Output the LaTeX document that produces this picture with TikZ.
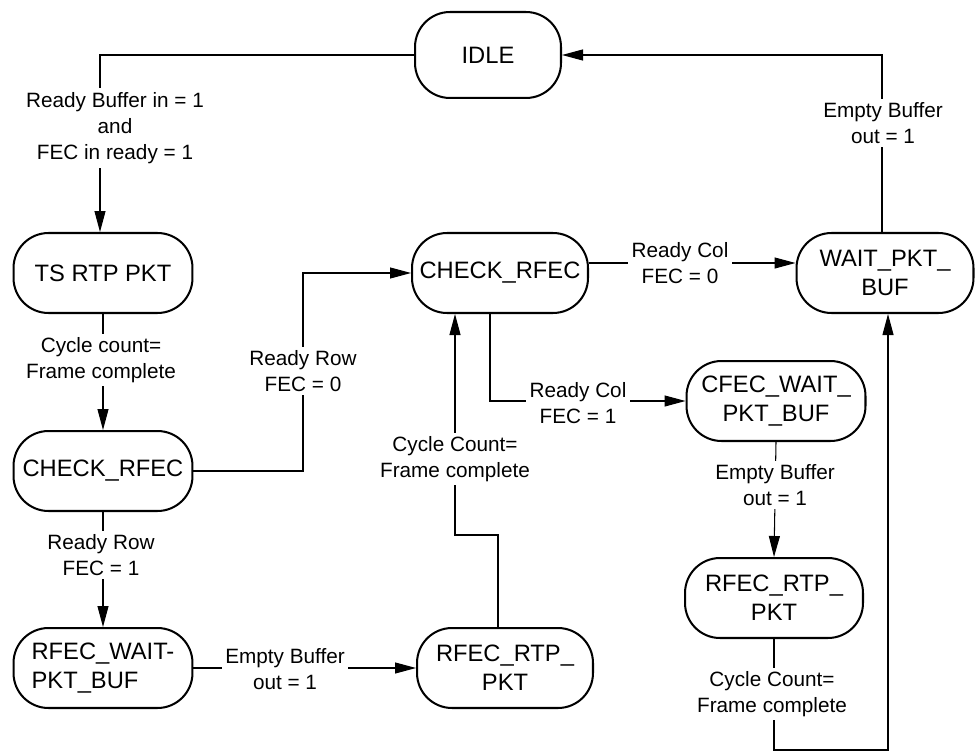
\documentclass[tikz,border=0pt]{standalone}
\usepackage{fontspec}
\setmainfont{Liberation Sans}
\usepackage{tikz}
\usetikzlibrary{arrows.meta,calc}

\begin{document}
\begin{tikzpicture}[x=.02cm,y=-.02cm,>={Triangle[length=.42cm,width=.22cm]},
    state/.style={draw,line width=1.15pt,rounded corners=.7cm,minimum width=3.58cm,minimum height=1.6cm,
      align=center,inner sep=2pt,font=\fontsize{13.5}{16.4}\selectfont},
    cond/.style={fill=white,align=center,inner sep=2pt,font=\fontsize{11.8}{15}\selectfont},
    link/.style={line width=.6pt}]
        \useasboundingbox (0,0) rectangle (976,753);
        \node[state,minimum width=2.92cm,minimum height=1.72cm] (idle) at (488,55) {IDLE};
        \node[state] (tsrtp) at (103,273) {TS RTP PKT};
        \node[state] (rowchk) at (103,471) {CHECK\_RFEC};
        \node[state,align=left] (rowwait) at (103,668) {RFEC\_WAIT-\\PKT\_BUF};
        \node[state,minimum width=3.52cm] (colchk) at (500,273) {CHECK\_RFEC};
        \node[state,minimum width=3.52cm] (rowrtp) at (505,668) {RFEC\_RTP\_\\PKT};
        \node[state,minimum width=3.54cm] (pktwait) at (885,273) {WAIT\_PKT\_\\BUF};
        \node[state] (colwait) at (776,401) {CFEC\_WAIT\_\\PKT\_BUF};
        \node[state,minimum width=3.56cm] (colrtp) at (774,598) {RFEC\_RTP\_\\PKT};
        \coordinate (rowbend) at (303,0);
        \coordinate (cycbend) at (455,535);
        \coordinate (lowbend) at (888,750);
        \draw[link,->] (idle.west) -| ([xshift=-.06cm]tsrtp.north);
        \draw[link,->] (tsrtp.south) -- (rowchk.north);
        \draw[link,->] (rowchk.south) -- (rowwait.north);
        \draw[link,->] (rowchk.east) -- (rowchk.east -| rowbend) |- (colchk.west);
        \draw[link,->] (rowwait.east) -- (rowrtp.west);
        \draw[link,->] ([xshift=-.14cm]rowrtp.north) |- (cycbend) -- (cycbend |- colchk.south);
        \draw[link,->] ([yshift=.2cm]colchk.east) -- ([yshift=.2cm]pktwait.west);
        \draw[link,->] ([xshift=-.2cm]colchk.south) |- (colwait.west);
        \draw[link,->] (colwait.south) -- (colrtp.north);
        \draw[link,->] (colrtp.south) |- (lowbend) -- (pktwait.south -| lowbend);
        \draw[link,->] ([xshift=-.06cm]pktwait.north) |- (idle.east);
        \node[cond] (bufin) at (115,128) {Ready Buffer in = 1\\and\\FEC in ready = 1};
        \node[cond] (tscyc) at (101,360) {Cycle count=\\Frame complete};
        \node[cond] (row0) at (303,371) {Ready Row\\FEC = 0};
        \node[cond] (row1) at (101,555) {Ready Row\\FEC = 1};
        \node[cond] (rowout) at (285,669) {Empty Buffer\\out = 1};
        \node[cond] (rowcyc) at (455,459) {Cycle Count=\\Frame complete};
        \node[cond] (col0) at (680,263) {Ready Col\\FEC = 0};
        \node[cond] (col1) at (578,403) {Ready Col\\FEC = 1};
        \node[cond] (colout) at (775,485) {Empty Buffer\\out = 1};
        \node[cond] (colcyc) at (772,694) {Cycle Count=\\Frame complete};
        \node[cond] (idleout) at (883,123) {Empty Buffer\\out = 1};
\end{tikzpicture}
\end{document}
